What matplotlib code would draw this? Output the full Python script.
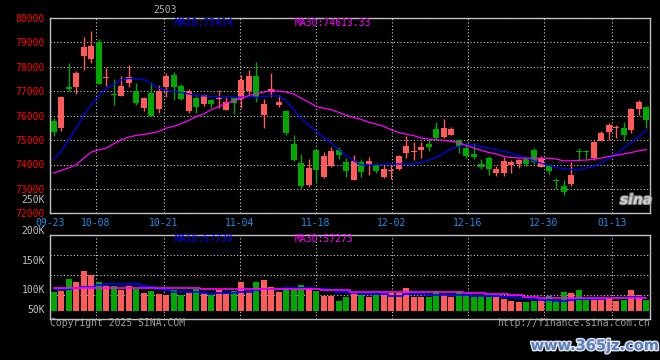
import numpy as np
import matplotlib.pyplot as plt
import matplotlib.patheffects as pe
from matplotlib.transforms import blended_transform_factory

# daily candles (80 sessions)
opens = [75790, 75480, 77180, 77180, 78440, 78330, 79010, 77520, 76890, 76820,
         77350, 77010, 76330, 76930, 76280, 77160, 77650, 77220, 76200, 76710,
         76470, 76650, 76660, 76240, 76700, 76660, 77000, 77620, 76030, 76970,
         76440, 76170, 74850, 74070, 73150, 74600, 73490, 73920, 74600, 74110,
         73380, 74110, 74030, 73990, 73500, 73750, 73830, 74480, 74510, 74600,
         74850, 75460, 75130, 75220, 75010, 74690, 74440, 74030, 74280, 73660,
         73660, 73990, 74030, 74240, 74600, 73910, 73990, 73350, 73130, 73220,
         74540, 74540, 74280, 74970, 75340, 75490, 75500, 75420, 76280, 76360]
highs = [75900, 76810, 78160, 77830, 79220, 79460, 79140, 77950, 77500, 77610,
         78070, 77330, 76750, 77380, 77260, 77750, 77790, 77300, 77080, 76810,
         76890, 76660, 77040, 76780, 76720, 77670, 77870, 78200, 76690, 77750,
         76850, 76240, 75220, 74440, 74240, 74650, 74520, 74730, 74730, 74280,
         74400, 74240, 74320, 74070, 73990, 73990, 74380, 75180, 74930, 74930,
         75050, 75750, 75870, 75540, 75050, 74890, 74890, 74240, 74360, 73950,
         74320, 74200, 74240, 74320, 74690, 74360, 74000, 73460, 73380, 74110,
         74690, 74600, 74970, 75380, 75710, 75620, 75750, 76320, 76650, 76400]
lows = [75180, 75380, 76990, 76900, 77880, 78160, 77310, 77220, 76450, 76820,
        77160, 76440, 76200, 75990, 76090, 76770, 76620, 76650, 76090, 76110,
        76410, 76300, 76300, 76210, 76070, 76300, 76900, 76550, 75500, 76780,
        76350, 75220, 74150, 73040, 73090, 73270, 73450, 73880, 74240, 73500,
        73380, 73500, 73580, 73660, 73460, 73420, 73790, 74280, 74200, 74280,
        74560, 75010, 75090, 75220, 74480, 74280, 74240, 73830, 73580, 73540,
        73540, 73660, 73870, 73950, 74030, 73910, 73620, 73010, 72770, 73130,
        74150, 74240, 74200, 74970, 75010, 75090, 75010, 75300, 76030, 75500]
closes = [75310, 76770, 77070, 77750, 78810, 78850, 77310, 77580, 76860, 77220,
          77570, 76500, 76730, 75990, 77010, 77610, 77160, 76690, 77010, 76370,
          76850, 76480, 76700, 76550, 76500, 77460, 77620, 76750, 76480, 77090,
          76560, 75300, 74200, 73130, 73870, 73760, 74360, 74560, 74400, 73750,
          74150, 73710, 74150, 73750, 73830, 73790, 74360, 74770, 74540, 74730,
          74730, 75090, 75500, 75460, 74770, 74360, 74320, 73910, 73830, 73830,
          74150, 74110, 74200, 74030, 74110, 74280, 73750, 73320, 72890, 73580,
          74510, 74510, 74930, 75300, 75620, 75540, 75220, 76280, 76560, 75830]
ma10 = [74220, 74540, 75010, 75490, 76030, 76440, 76810, 77120, 77260, 77460,
        77520, 77490, 77490, 77300, 77120, 77030, 76990, 76940, 76890, 76810,
        76810, 76780, 76780, 76780, 76770, 76750, 76780, 76750, 76780, 76810,
        76810, 76600, 76240, 75870, 75620, 75350, 75110, 74880, 74600, 74360,
        74150, 73990, 73960, 73990, 74010, 74020, 74020, 74020, 74020, 74100,
        74180, 74290, 74470, 74640, 74740, 74810, 74780, 74740, 74670, 74600,
        74540, 74470, 74370, 74260, 74150, 74050, 73960, 73880, 73830, 73790,
        73790, 73860, 73920, 74060, 74240, 74430, 74670, 74900, 75150, 75410]
ma30 = [73650, 73760, 73860, 73990, 74260, 74510, 74600, 74670, 74850, 75010,
        75120, 75190, 75230, 75280, 75350, 75490, 75560, 75670, 75800, 75960,
        76070, 76240, 76370, 76510, 76600, 76710, 76820, 76890, 76960, 77010,
        77010, 76960, 76880, 76710, 76550, 76370, 76300, 76240, 76130, 76010,
        75920, 75840, 75730, 75650, 75560, 75420, 75310, 75240, 75180, 75080,
        75040, 75010, 74990, 74940, 74900, 74780, 74670, 74580, 74490, 74430,
        74330, 74290, 74260, 74260, 74260, 74260, 74260, 74220, 74150, 74150,
        74170, 74180, 74220, 74260, 74330, 74370, 74430, 74490, 74560, 74610]

volumes = [85500, 90000, 144000, 130500, 180000, 162000, 130500, 112500, 112500, 94500,
           112500, 99000, 81000, 90000, 76500, 72000, 94500, 72000, 81000, 99000,
           81000, 72000, 94500, 76500, 90000, 130500, 90000, 130500, 139500, 108000,
           85500, 99000, 103500, 117000, 103500, 90000, 67500, 67500, 45000, 63000,
           85500, 76500, 63000, 76500, 81000, 81000, 81000, 103500, 63000, 63000,
           63000, 90000, 76500, 63000, 90000, 72000, 63000, 67500, 63000, 63000,
           54000, 45000, 40500, 40500, 45000, 49500, 67500, 49500, 85500, 81000,
           94500, 58500, 58500, 58500, 58500, 45000, 49500, 94500, 72000, 49500]
vol_ma10 = [100500, 100500, 100500, 102000, 109500, 109500, 117000, 120000, 120000, 120000,
            123000, 120000, 114000, 106500, 99000, 93000, 85500, 85500, 84000, 84000,
            79500, 78000, 79500, 79500, 82500, 85500, 87000, 94500, 99000, 100500,
            100500, 102000, 103500, 103500, 102000, 100500, 97500, 93000, 87000, 84000,
            79500, 78000, 76500, 76500, 75000, 69000, 69000, 75000, 75000, 75000,
            72000, 72000, 72000, 72000, 72000, 70500, 69000, 69000, 69000, 67500,
            64500, 63000, 60000, 58500, 54000, 49500, 48000, 46500, 46500, 49500,
            52500, 54000, 55500, 55500, 57000, 58500, 58500, 61500, 63000, 57730]
vol_ma30 = [102000, 102000, 102000, 102000, 102000, 102000, 102000, 102000, 102000, 102000,
            102000, 102000, 102000, 102000, 102000, 102000, 102000, 102000, 102000, 102000,
            100500, 100500, 100500, 100500, 100500, 99000, 99000, 99000, 99000, 99000,
            99000, 100500, 100500, 100500, 100500, 100500, 94500, 94500, 94500, 94500,
            85500, 85500, 85500, 85500, 85500, 85500, 85500, 85500, 85500, 85500,
            85500, 85500, 85500, 85500, 85500, 79500, 79500, 79500, 75000, 75000,
            75000, 70500, 70500, 64500, 64500, 60000, 60000, 60000, 60000, 60000,
            60000, 58500, 58500, 58500, 58500, 58500, 57270, 57270, 57270, 57270]

date_labels = ['09-23', '10-08', '10-21', '11-04', '11-18', '12-02', '12-16', '12-30', '01-13']
date_index = [0, 6, 15, 25, 35, 45, 55, 65, 74]
price_ticks = [72000, 73000, 74000, 75000, 76000, 77000, 78000, 79000, 80000]

RED = '#FF5A5A'
GREEN = '#00A800'
GRID = '#C8C8C8'
MONO = 'DejaVu Sans Mono'
FS = 7

W, H = 660, 360
fig = plt.figure(figsize=(W / 100, H / 100), dpi=100, facecolor='black')


def px_axes(x0, y0, x1, y1):
    a = fig.add_axes([x0 / W, 1 - y1 / H, (x1 - x0) / W, (y1 - y0) / H])
    a.set_facecolor('black')
    for s in a.spines.values():
        s.set_color('#C0C0C0')
        s.set_linewidth(1)
    return a


ax = px_axes(50, 17.8, 650, 213.4)
axv = px_axes(50, 235, 650, 319)

o = np.array(opens)
c = np.array(closes)
x = np.arange(len(c))
cols = np.where(c >= o, RED, GREEN)
# date gridlines sit a little wider than the candle slots
tick_pos = np.array(date_index) * len(c) / (len(c) - 1) - 0.5

# price panel
ax.vlines(x, lows, highs, colors=cols, lw=1, zorder=3)
ax.bar(x, np.maximum(np.abs(c - o), 40), bottom=np.minimum(o, c), width=0.78,
       color=cols, linewidth=0, zorder=4)
ax.plot(x, ma10, color='#0000FF', lw=0.9, zorder=5)
ax.plot(x, ma30, color='#FF00FF', lw=0.9, zorder=5)
ax.set_xlim(-0.5, len(c) - 0.5)
ax.set_ylim(72000, 80000)
ax.set_yticks(price_ticks)
ax.set_yticklabels([str(t) for t in price_ticks], color='#FF0000',
                   fontfamily=MONO, fontsize=FS)
ax.set_xticks(tick_pos)
ax.set_xticklabels(date_labels, color='#1E8FE6', fontfamily=MONO, fontsize=FS)
ax.tick_params(length=0, pad=3)
ax.tick_params(axis='y', pad=4)
ax.grid(True, color=GRID, linestyle=(0, (1, 2)), lw=0.8, zorder=0)
ax.set_axisbelow(True)

# volume panel
vol_grid = [70650, 160650, 250650]
axv.bar(x, volumes, width=0.78, color=cols, linewidth=0, zorder=3)
axv.plot(x, vol_ma10, color='#0000FF', lw=1.2, drawstyle='steps-mid', zorder=4)
axv.plot(x, vol_ma30, color='#FF00FF', lw=1.2, drawstyle='steps-mid', zorder=4)
axv.set_xlim(-0.5, len(c) - 0.5)
axv.set_ylim(-36000, 342000)
axv.set_xticks(tick_pos)
axv.set_xticklabels([])
axv.set_yticks(vol_grid)
axv.set_yticklabels([])
axv.tick_params(length=0)
axv.grid(True, color=GRID, linestyle=(0, (1, 2)), lw=0.8, zorder=0)
axv.set_axisbelow(True)

trans = blended_transform_factory(axv.transAxes, axv.transData)
for val, lab in [(4500, '50K'), (94500, '100K'), (225000, '150K'),
                 (360000, '200K'), (499500, '250K')]:
    axv.text(-5 / 600, val, lab, transform=trans, ha='right', va='center',
             color='#C0C0C0', fontfamily=MONO, fontsize=FS, clip_on=False)

# text labels
def ftext(px, py, s, **kw):
    kw.setdefault('fontfamily', MONO)
    kw.setdefault('fontsize', FS)
    kw.setdefault('va', 'center')
    fig.text(px / W, 1 - py / H, s, **kw)


ftext(175, 23.5, 'MA10:75414', color='#0000FF')
ftext(295, 23.5, 'MA30:74613.33', color='#FF00FF')
ftext(175, 238.5, 'MA10:57730', color='#0000FF')
ftext(295, 238.5, 'MA30:57273', color='#FF00FF')
ftext(165, 10, '2503', color='#B0B0B0', ha='center')
ftext(50, 323.5, 'Copyright 2025 SINA.COM', color='#A0A0A0')
ftext(650, 323.5, 'http://finance.sina.com.cn', color='#A0A0A0', ha='right')
ftext(636, 200, 'sina', color='#D0D0D0', ha='center', fontfamily='DejaVu Sans',
      fontsize=10, fontweight='bold', style='italic',
      path_effects=[pe.withStroke(linewidth=1.5, foreground='#808080')])
ftext(595, 345.5, 'www.365jz.com', color='#5B7DB8', ha='center',
      fontfamily='DejaVu Sans', fontsize=10.5, fontweight='bold',
      path_effects=[pe.withStroke(linewidth=2, foreground='#E0E6F0')])

fig.savefig('out.png', dpi=100, facecolor='black')
